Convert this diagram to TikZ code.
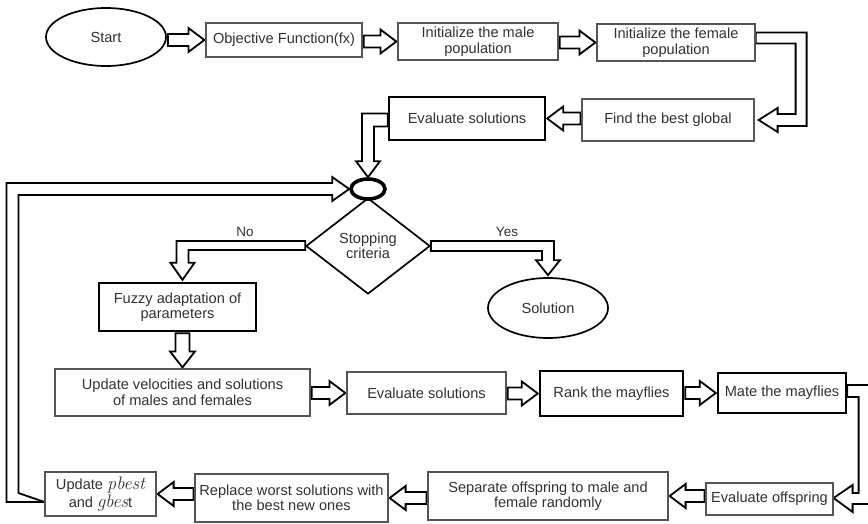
\documentclass[tikz,border=0pt]{standalone}
\usepackage{fontspec}
\setmainfont{Liberation Sans}
\newfontfamily\varfont[Scale=1.25]{Latin Modern Roman}
\usetikzlibrary{calc,shapes.geometric}
\definecolor{ink}{RGB}{50,50,50}
\definecolor{edge}{RGB}{85,85,85}
\pgfdeclarelayer{bg}
\pgfsetlayers{bg,main}

% variable names set in a serif italic
\newcommand{\varname}[1]{{\varfont\itshape #1}}

% hollow block arrows between two nodes
\newcommand{\harrowR}[2]{\draw[blockarrow] ($(#1.east |- #2.west)+(1,-6)$) -- ($(#2.west)+(-17,-6)$) -- ($(#2.west)+(-17,-12)$) -- ($(#2.west)+(-1,0)$) -- ($(#2.west)+(-17,12)$) -- ($(#2.west)+(-17,6)$) -- ($(#1.east |- #2.west)+(1,6)$) -- cycle;}
\newcommand{\harrowL}[2]{\draw[blockarrow] ($(#1.west |- #2.east)+(-1,-6)$) -- ($(#2.east)+(17,-6)$) -- ($(#2.east)+(17,-12)$) -- ($(#2.east)+(1,0)$) -- ($(#2.east)+(17,12)$) -- ($(#2.east)+(17,6)$) -- ($(#1.west |- #2.east)+(-1,6)$) -- cycle;}
\newcommand{\varrowD}[2]{\draw[blockarrow] ($(#1.south -| #2.north)+(-7,1)$) -- ($(#2.north)+(-7,-17)$) -- ($(#2.north)+(-12.5,-17)$) -- ($(#2.north)+(0,-1)$) -- ($(#2.north)+(12.5,-17)$) -- ($(#2.north)+(7,-17)$) -- ($(#1.south -| #2.north)+(7,1)$) -- cycle;}

\begin{document}
\begin{tikzpicture}[x=1pt,y=-1pt,
  every node/.style={font=\fontsize{14.6}{15.5}\selectfont, text=ink, inner sep=0pt, align=center},
  box/.style={draw=edge, line width=1.2pt, fill=white},
  thickbox/.style={draw=black, line width=2.4pt, fill=white},
  oval/.style={ellipse, draw=black, line width=1.7pt, fill=white},
  blockarrow/.style={draw=black, line width=1.8pt, fill=white, line join=miter},
  label/.style={font=\fontsize{13.5}{14}\selectfont}
]
\useasboundingbox (0,0) rectangle (868,524);

% ---- nodes ----
\node[oval, minimum width=120pt, minimum height=58pt] (start) at (106,37) {Start};
\node[box, minimum width=156pt, minimum height=34pt] (obj) at (284,40) {Objective Function(fx)};
\node[box, minimum width=160pt, minimum height=37pt] (male) at (478,41.5) {Initialize the male\\population};
\node[box, minimum width=158pt, minimum height=37pt] (fem) at (676,42.5) {Initialize the female\\population};
\node[box, minimum width=172pt, minimum height=42pt] (find) at (668,120) {Find the best global};
\node[thickbox, minimum width=156pt, minimum height=43pt] (ev1) at (467,118.5) {Evaluate solutions};

\node[diamond, draw=black, line width=1.7pt, fill=white, aspect=1.3, minimum width=124pt, minimum height=96pt] (dia) at (368,246) {Stopping\\criteria};
\node[ellipse, draw=black, line width=3.6pt, fill=white, minimum width=34pt, minimum height=20pt] (junc) at (368,189) {};
\node[oval, minimum width=120pt, minimum height=60pt] (sol) at (548,308) {Solution};
\node[thickbox, minimum width=157pt, minimum height=48pt] (fz) at (177.5,307) {Fuzzy adaptation of\\parameters};

\node[box, minimum width=255pt, minimum height=47pt] (upd) at (182.5,392.5) {Update velocities and solutions\\of males and females};
\node[box, minimum width=159pt, minimum height=42pt] (ev2) at (426.5,393) {Evaluate solutions};
\node[thickbox, minimum width=143pt, minimum height=45pt] (rank) at (611.5,393.5) {Rank the mayflies};
\node[thickbox, minimum width=128pt, minimum height=40pt] (mate) at (782,393) {Mate the mayflies};

\node[box, minimum width=127pt, minimum height=32pt] (eoff) at (769.5,499) {Evaluate offspring};
\node[box, minimum width=240pt, minimum height=48pt] (sep) at (548,496) {Separate offspring to male and\\female randomly};
\node[box, minimum width=193pt, minimum height=48pt] (repl) at (291.5,498) {Replace worst solutions with\\the best new ones};
\node[box, minimum width=111pt, minimum height=44pt] (pb) at (100.5,494) {Update \varname{pbest}\\and \varname{gbes}t};

\node[label] (nolab) at (245,232) {No};
\node[label] (yeslab) at (507,232) {Yes};

% ---- connectors ----
\begin{pgfonlayer}{bg}
\fill[white] (0,0) rectangle (868,524);

\harrowR{start}{obj}
\harrowR{obj}{male}
\harrowR{male}{fem}
\harrowL{find}{ev1}
\harrowR{upd}{ev2}
\harrowR{ev2}{rank}
\harrowR{rank}{mate}
\harrowL{eoff}{sep}
\harrowL{sep}{repl}
\harrowL{repl}{pb}
\varrowD{fz}{upd}

% female population -> best global
\draw[blockarrow] ($(fem.east)+(0,-10)$) -| ($(find.east)+(52,6)$) -- ($(find.east)+(23,6)$) -- ($(find.east)+(23,12)$) -- ($(find.east)+(4,0)$) -- ($(find.east)+(23,-12)$) -- ($(find.east)+(23,-6)$) -- ($(find.east)+(41,-6)$) |- ($(fem.east)+(0,1)$) -- cycle;

% evaluate solutions -> junction
\draw[blockarrow] ($(ev1.west)+(0,-5)$) -| ($(junc.north)+(-6,-16)$) -- ($(junc.north)+(-12,-16)$) -- (junc.north) -- ($(junc.north)+(12,-16)$) -- ($(junc.north)+(6,-16)$) |- ($(ev1.west)+(0,8)$) -- cycle;

% loop back: update pbest/gbest -> junction
\draw[blockarrow] ($(pb.west)+(0,8)$) -- ($(pb.west)+(-38,8)$) |- ($(junc.west)+(-17,-6)$) -- ($(junc.west)+(-17,-12)$) -- (junc.west) -- ($(junc.west)+(-17,12)$) -- ($(junc.west)+(-17,6)$) -| ($(pb.west)+(-26,-1)$) -- cycle;

% stopping criteria: No -> fuzzy adaptation
\draw[blockarrow] ($(dia.west)+(0,-5)$) -| ($(fz.north)+(-1,-19)$) -- ($(fz.north)+(-7,-19)$) -- ($(fz.north)+(5,-2)$) -- ($(fz.north)+(17,-19)$) -- ($(fz.north)+(11,-19)$) |- ($(dia.west)+(0,4)$) -- cycle;

% stopping criteria: Yes -> solution
\draw[blockarrow] ($(dia.east)+(0,-5)$) -| ($(sol.north)+(6,-17)$) -- ($(sol.north)+(12,-17)$) -- ($(sol.north)+(0,-2)$) -- ($(sol.north)+(-12,-17)$) -- ($(sol.north)+(-6,-17)$) |- ($(dia.east)+(0,5)$) -- cycle;

% mate the mayflies -> evaluate offspring
\draw[blockarrow] ($(mate.east)+(0,-8)$) -| ($(eoff.east)+(38,5)$) -- ($(eoff.east)+(19,5)$) -- ($(eoff.east)+(19,13)$) -- ($(eoff.east)+(0,-1)$) -- ($(eoff.east)+(19,-14)$) -- ($(eoff.east)+(19,-6)$) -- ($(eoff.east)+(25,-6)$) |- ($(mate.east)+(0,4)$) -- cycle;
\end{pgfonlayer}
\end{tikzpicture}
\end{document}
